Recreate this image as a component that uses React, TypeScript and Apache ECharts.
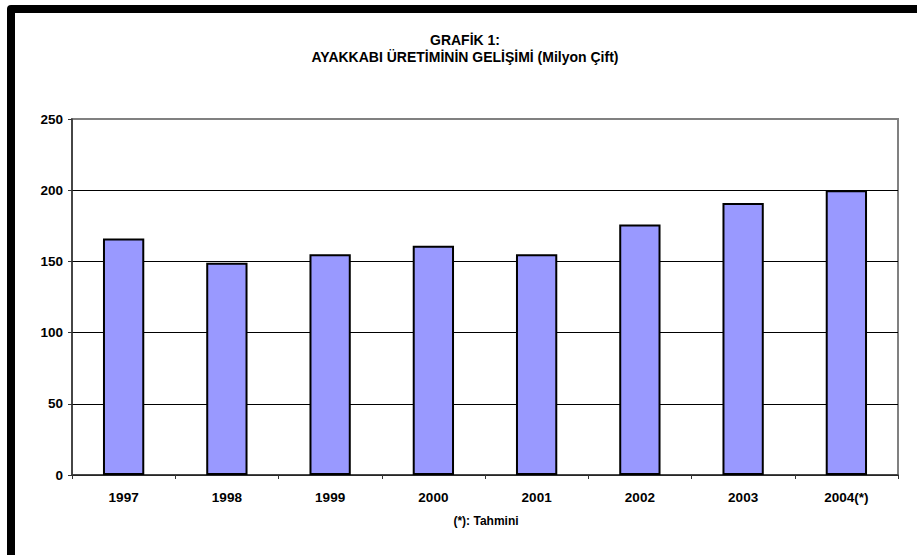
import React, { useEffect, useRef } from "react";
import * as echarts from "echarts";

const categories = ["1997", "1998", "1999", "2000", "2001", "2002", "2003", "2004(*)"];
const production = [166, 149, 155, 161, 155, 176, 191, 200];
const titleLines = ["GRAFİK 1:", "AYAKKABI ÜRETİMİNİN GELİŞİMİ (Milyon Çift)"];
const footnote = "(*): Tahmini";

export default function App() {
  const ref = useRef<HTMLDivElement>(null);
  useEffect(() => {
    document.body.style.margin = "0";
    const chart = echarts.init(ref.current!, null, { renderer: "svg" });
    const font = "'Liberation Sans', Arial, sans-serif";
    chart.setOption({
      animation: false,
      backgroundColor: "#ffffff",
      textStyle: { fontFamily: font },
      title: {
        text: titleLines.join("\n"),
        left: 465,
        top: 31,
        padding: 0,
        textAlign: "center",
        textStyle: { fontSize: 14, fontWeight: "bold", color: "#000", lineHeight: 17, fontFamily: font },
      },
      graphic: [
        {
          type: "polyline",
          shape: { points: [[11, 560], [11, 9], [925, 9]] },
          style: { stroke: "#000", lineWidth: 8, fill: null, lineJoin: "round" },
          z: 100,
        },
        {
          type: "text",
          x: 486,
          y: 521,
          style: {
            text: footnote,
            fontSize: 12,
            fontWeight: "bold",
            fontFamily: font,
            fill: "#000",
            align: "center",
            verticalAlign: "middle",
          },
        },
      ],
      grid: {
        left: 72,
        right: 19,
        top: 119,
        bottom: 80,
        show: true,
        borderColor: "#808080",
        borderWidth: 2,
        backgroundColor: "#fff",
      },
      xAxis: {
        type: "category",
        data: categories,
        axisLine: { show: true, lineStyle: { color: "#333", width: 1.5 } },
        axisTick: { show: true, length: 4, lineStyle: { color: "#333" } },
        axisLabel: { fontSize: 13.5, fontWeight: "bold", color: "#000", margin: 15, fontFamily: font },
      },
      yAxis: {
        type: "value",
        min: 0,
        max: 250,
        interval: 50,
        axisLine: { show: true, lineStyle: { color: "#333", width: 1.5 } },
        axisTick: { show: true, length: 4, lineStyle: { color: "#333" } },
        axisLabel: { fontSize: 13.5, fontWeight: "bold", color: "#000", margin: 9, fontFamily: font },
        splitLine: {
          show: true,
          lineStyle: { color: ["#000", "#000", "#000", "#000", "#000", "#808080"], width: 1 },
        },
      },
      series: [
        {
          type: "bar",
          data: production,
          barWidth: "40%",
          itemStyle: { color: "#9999FF", borderColor: "#000", borderWidth: 2 },
        },
      ],
    });
    return () => chart.dispose();
  }, []);
  return <div ref={ref} style={{ width: 917, height: 555 }} />;
}
